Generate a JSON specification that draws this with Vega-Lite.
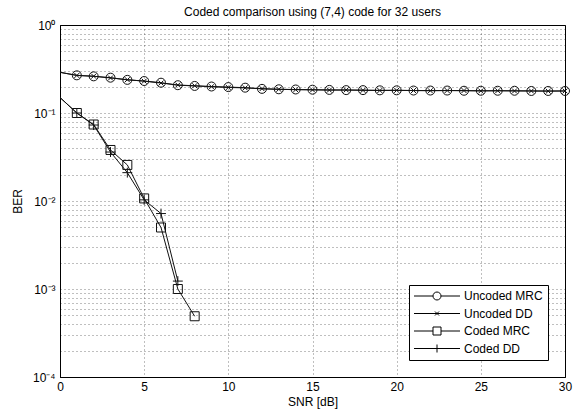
{
  "$schema": "https://vega.github.io/schema/vega-lite/v6.json",
  "width": 505,
  "height": 352,
  "autosize": "none",
  "padding": {"left": 60, "top": 25, "right": 8, "bottom": 40},
  "background": "white",
  "title": {"text": "Coded comparison using (7,4) code for 32 users", "fontSize": 12, "fontWeight": "normal", "font": "Liberation Sans", "color": "black", "offset": 0},
  "config": {
    "view": {"stroke": "black", "strokeWidth": 1},
    "axis": {"labelFont": "Liberation Sans", "titleFont": "Liberation Sans", "labelFontSize": 12, "titleFontSize": 12, "titleFontWeight": "normal", "labelColor": "black", "titleColor": "black", "domainColor": "black", "tickColor": "black", "gridColor": "#000", "gridOpacity": 0.5, "gridDash": [1, 3], "gridWidth": 1}
  },
  "data": {"values": [
    {"snr": 0, "ber": 0.29, "series": "Uncoded MRC"},
    {"snr": 1, "ber": 0.268, "series": "Uncoded MRC"},
    {"snr": 2, "ber": 0.261, "series": "Uncoded MRC"},
    {"snr": 3, "ber": 0.252, "series": "Uncoded MRC"},
    {"snr": 4, "ber": 0.238, "series": "Uncoded MRC"},
    {"snr": 5, "ber": 0.231, "series": "Uncoded MRC"},
    {"snr": 6, "ber": 0.221, "series": "Uncoded MRC"},
    {"snr": 7, "ber": 0.207, "series": "Uncoded MRC"},
    {"snr": 8, "ber": 0.203, "series": "Uncoded MRC"},
    {"snr": 9, "ber": 0.2, "series": "Uncoded MRC"},
    {"snr": 10, "ber": 0.197, "series": "Uncoded MRC"},
    {"snr": 11, "ber": 0.194, "series": "Uncoded MRC"},
    {"snr": 12, "ber": 0.188, "series": "Uncoded MRC"},
    {"snr": 13, "ber": 0.186, "series": "Uncoded MRC"},
    {"snr": 14, "ber": 0.185, "series": "Uncoded MRC"},
    {"snr": 15, "ber": 0.184, "series": "Uncoded MRC"},
    {"snr": 16, "ber": 0.183, "series": "Uncoded MRC"},
    {"snr": 17, "ber": 0.182, "series": "Uncoded MRC"},
    {"snr": 18, "ber": 0.182, "series": "Uncoded MRC"},
    {"snr": 19, "ber": 0.181, "series": "Uncoded MRC"},
    {"snr": 20, "ber": 0.181, "series": "Uncoded MRC"},
    {"snr": 21, "ber": 0.18, "series": "Uncoded MRC"},
    {"snr": 22, "ber": 0.18, "series": "Uncoded MRC"},
    {"snr": 23, "ber": 0.18, "series": "Uncoded MRC"},
    {"snr": 24, "ber": 0.179, "series": "Uncoded MRC"},
    {"snr": 25, "ber": 0.179, "series": "Uncoded MRC"},
    {"snr": 26, "ber": 0.179, "series": "Uncoded MRC"},
    {"snr": 27, "ber": 0.179, "series": "Uncoded MRC"},
    {"snr": 28, "ber": 0.178, "series": "Uncoded MRC"},
    {"snr": 29, "ber": 0.178, "series": "Uncoded MRC"},
    {"snr": 30, "ber": 0.178, "series": "Uncoded MRC"},
    {"snr": 0, "ber": 0.29, "series": "Uncoded DD"},
    {"snr": 1, "ber": 0.267, "series": "Uncoded DD"},
    {"snr": 2, "ber": 0.262, "series": "Uncoded DD"},
    {"snr": 3, "ber": 0.25, "series": "Uncoded DD"},
    {"snr": 4, "ber": 0.239, "series": "Uncoded DD"},
    {"snr": 5, "ber": 0.23, "series": "Uncoded DD"},
    {"snr": 6, "ber": 0.219, "series": "Uncoded DD"},
    {"snr": 7, "ber": 0.208, "series": "Uncoded DD"},
    {"snr": 8, "ber": 0.204, "series": "Uncoded DD"},
    {"snr": 9, "ber": 0.199, "series": "Uncoded DD"},
    {"snr": 10, "ber": 0.195, "series": "Uncoded DD"},
    {"snr": 11, "ber": 0.193, "series": "Uncoded DD"},
    {"snr": 12, "ber": 0.189, "series": "Uncoded DD"},
    {"snr": 13, "ber": 0.186, "series": "Uncoded DD"},
    {"snr": 14, "ber": 0.184, "series": "Uncoded DD"},
    {"snr": 15, "ber": 0.183, "series": "Uncoded DD"},
    {"snr": 16, "ber": 0.182, "series": "Uncoded DD"},
    {"snr": 17, "ber": 0.183, "series": "Uncoded DD"},
    {"snr": 18, "ber": 0.181, "series": "Uncoded DD"},
    {"snr": 19, "ber": 0.18, "series": "Uncoded DD"},
    {"snr": 20, "ber": 0.181, "series": "Uncoded DD"},
    {"snr": 21, "ber": 0.18, "series": "Uncoded DD"},
    {"snr": 22, "ber": 0.179, "series": "Uncoded DD"},
    {"snr": 23, "ber": 0.18, "series": "Uncoded DD"},
    {"snr": 24, "ber": 0.18, "series": "Uncoded DD"},
    {"snr": 25, "ber": 0.178, "series": "Uncoded DD"},
    {"snr": 26, "ber": 0.179, "series": "Uncoded DD"},
    {"snr": 27, "ber": 0.178, "series": "Uncoded DD"},
    {"snr": 28, "ber": 0.178, "series": "Uncoded DD"},
    {"snr": 29, "ber": 0.177, "series": "Uncoded DD"},
    {"snr": 30, "ber": 0.178, "series": "Uncoded DD"},
    {"snr": 0, "ber": 0.15, "series": "Coded MRC"},
    {"snr": 1, "ber": 0.1, "series": "Coded MRC"},
    {"snr": 2, "ber": 0.074, "series": "Coded MRC"},
    {"snr": 3, "ber": 0.038, "series": "Coded MRC"},
    {"snr": 4, "ber": 0.0257, "series": "Coded MRC"},
    {"snr": 5, "ber": 0.0107, "series": "Coded MRC"},
    {"snr": 6, "ber": 0.005, "series": "Coded MRC"},
    {"snr": 7, "ber": 0.001, "series": "Coded MRC"},
    {"snr": 8, "ber": 0.00049, "series": "Coded MRC"},
    {"snr": 0, "ber": 0.15, "series": "Coded DD"},
    {"snr": 1, "ber": 0.1, "series": "Coded DD"},
    {"snr": 2, "ber": 0.073, "series": "Coded DD"},
    {"snr": 3, "ber": 0.036, "series": "Coded DD"},
    {"snr": 4, "ber": 0.021, "series": "Coded DD"},
    {"snr": 5, "ber": 0.0103, "series": "Coded DD"},
    {"snr": 6, "ber": 0.0072, "series": "Coded DD"},
    {"snr": 7, "ber": 0.00123, "series": "Coded DD"}
  ]},
  "encoding": {
    "x": {"field": "snr", "type": "quantitative", "scale": {"domain": [0, 30], "nice": false, "zero": false},
      "axis": {"values": [0, 5, 10, 15, 20, 25, 30], "title": "SNR [dB]", "grid": true, "ticks": false, "labelPadding": 4, "titlePadding": 4, "labelFlush": false}},
    "y": {"field": "ber", "type": "quantitative", "scale": {"type": "log", "domain": [0.0001, 1], "nice": false},
      "axis": {"values": [0.0001, 0.0002, 0.0003, 0.0004, 0.0005, 0.0006, 0.0007, 0.0008, 0.0009, 0.001, 0.002, 0.003, 0.004, 0.005, 0.006, 0.007, 0.008, 0.009, 0.01, 0.02, 0.03, 0.04, 0.05, 0.06, 0.07, 0.08, 0.09, 0.1, 0.2, 0.3, 0.4, 0.5, 0.6, 0.7, 0.8, 0.9, 1],
        "labelExpr": "datum.value == 1 ? '10⁰' : datum.value == 0.1 ? '10⁻¹' : datum.value == 0.01 ? '10⁻²' : datum.value == 0.001 ? '10⁻³' : datum.value == 0.0001 ? '10⁻⁴' : ''",
        "title": "BER", "grid": true, "ticks": false, "labelOverlap": false, "labelPadding": 5, "titlePadding": 8, "labelFlush": false}}
  },
  "resolve": {"scale": {"shape": "independent"}, "legend": {"shape": "independent"}},
  "layer": [
    {
      "mark": {"type": "line", "color": "#111", "strokeWidth": 1},
      "encoding": {"detail": {"field": "series", "type": "nominal"}}
    },
    {
      "transform": [{"filter": "datum.snr > 0"}],
      "mark": {"type": "point", "filled": false, "color": "#111", "strokeWidth": 1, "opacity": 1, "size": 81},
      "encoding": {
        "shape": {"field": "series", "type": "nominal",
          "scale": {"domain": ["Uncoded MRC", "Uncoded DD", "Coded MRC", "Coded DD"], "range": ["M-1,0A1,1 0 1,1 1,0A1,1 0 1,1 -1,0", "M-0.55,-0.55L0.55,0.55M-0.55,0.55L0.55,-0.55", "M-1,-1L1,-1L1,1L-1,1Z", "M-1.1,0L1.1,0M0,-1.1L0,1.1"]},
          "legend": null}
      }
    },
    {
      "transform": [{"filter": "datum.snr < 0"}],
      "mark": {"type": "point", "filled": false, "color": "#111", "strokeWidth": 1, "opacity": 1},
      "encoding": {
        "shape": {"field": "series", "type": "nominal",
          "scale": {"domain": ["Uncoded MRC", "Uncoded DD", "Coded MRC", "Coded DD"], "range": ["M-5.75,0L-1,0M1,0L5.75,0M-1,0A1,1 0 1,1 1,0A1,1 0 1,1 -1,0", "M-5.75,0L5.75,0M-0.5,-0.5L0.5,0.5M-0.5,0.5L0.5,-0.5", "M-5.75,0L-1,0M1,0L5.75,0M-1,-1L1,-1L1,1L-1,1Z", "M-5.75,0L5.75,0M0,-1L0,1"]},
          "legend": {"title": null, "orient": "none", "legendX": 349, "legendY": 260, "strokeColor": "black", "fillColor": "white", "padding": 5, "cornerRadius": 0,
            "labelFont": "Liberation Sans", "labelFontSize": 12, "labelColor": "black", "symbolOffset": 17, "labelOffset": 21, "rowPadding": 5.5, "symbolSize": 64,
            "symbolStrokeColor": "black", "symbolFillColor": "transparent", "symbolStrokeWidth": 1, "symbolOpacity": 1}}
      }
    }
  ]
}
